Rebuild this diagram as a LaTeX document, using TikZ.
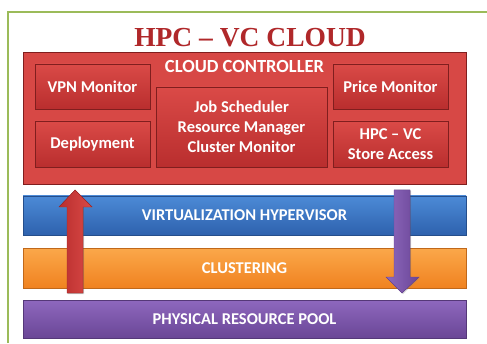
\documentclass[tikz,border=0pt]{standalone}
\usepackage{fontspec}
\setmainfont{Carlito}
\newfontfamily\titlefont[Ligatures=TeX]{Liberation Serif}
\usetikzlibrary{shadows,calc}
\definecolor{frameg}{HTML}{9BBB59}
\definecolor{redA}{HTML}{DA4A47}
\definecolor{redB}{HTML}{B92E2E}
\definecolor{redE}{HTML}{A02626}
\definecolor{bluA}{HTML}{4C8AD6}
\definecolor{bluB}{HTML}{2E62AE}
\definecolor{oraA}{HTML}{FBA84A}
\definecolor{oraB}{HTML}{F08220}
\definecolor{purA}{HTML}{8E68BE}
\definecolor{purB}{HTML}{6A4696}
\definecolor{titlec}{HTML}{B0282A}
\tikzset{
  lay/.style={draw=#1!80!black, line width=0.4pt, inner sep=0pt,
    drop shadow={opacity=0.35, shadow xshift=1.2pt, shadow yshift=-1.2pt},
    text=white, font=\bfseries\fontsize{16.5}{20}\selectfont, align=center},
  redbox/.style={lay=redE, top color=redA, bottom color=redB},
  bigred/.style={lay=redE, fill=redA!92!redB},
  bluebar/.style={lay=bluB, top color=bluA, bottom color=bluB},
  orangebar/.style={lay=oraB, top color=oraA, bottom color=oraB},
  purplebar/.style={lay=purB, top color=purA, bottom color=purB},
  lbl/.style={text=white, font=\bfseries\fontsize{18.5}{21}\selectfont, align=center, inner sep=0pt},
}
\begin{document}
\begin{tikzpicture}[x=1pt,y=1pt]
\useasboundingbox (0,0) rectangle (487,343);
\fill[white] (0,0) rectangle (487,343);
% frame
\draw[frameg, line width=1.5pt] (8,0) -- (8,331) -- (487,331);
% title
\node[font=\titlefont\bfseries\fontsize{27.5}{30}\selectfont, text=titlec, inner sep=0pt] (title) at (250,305) {HPC – VC CLOUD};
% cloud controller
\node[bigred, minimum width=443pt, minimum height=132pt] (cc) at (244.5,225) {};
\node[lbl] (cct) at (244.5,276) {CLOUD CONTROLLER};
\node[redbox, minimum width=115pt, minimum height=45pt] (vpn) at (92.5,256.5) {VPN Monitor};
\node[redbox, minimum width=115pt, minimum height=45pt] (price) at (390.5,256.5) {Price Monitor};
\node[redbox, minimum width=171pt, minimum height=80pt] (mid) at (241.5,216) {Job Scheduler\\Resource Manager\\Cluster Monitor};
\node[redbox, minimum width=115pt, minimum height=46pt] (dep) at (92.5,199) {Deployment};
\node[redbox, minimum width=115pt, minimum height=46pt] (store) at (390.5,199) {HPC – VC\\Store Access};
% layers
\node[bluebar, minimum width=443pt, minimum height=39pt] (virt) at (244.5,127.5) {VIRTUALIZATION HYPERVISOR};
\node[orangebar, minimum width=443pt, minimum height=40pt] (clus) at (244.5,75) {CLUSTERING};
\node[purplebar, minimum width=443pt, minimum height=38pt] (phys) at (244.5,24) {PHYSICAL RESOURCE POOL};
% arrows
\coordinate (rt) at (75,50);
\coordinate (rh) at (75,153);
\fill[left color=redB, right color=redA, draw=redE, line width=0.4pt,
  drop shadow={opacity=0.3, shadow xshift=1pt, shadow yshift=-1pt}]
  ($(rt)+(-8,0)$) -- ($(rt)+(8,0)$) -- ($(rh)+(8,-17)$) -- ($(rh)+(17,-17)$) -- (rh)
  -- ($(rh)+(-16,-17)$) -- ($(rh)+(-8,-17)$) -- cycle;
\coordinate (pt) at (402,153);
\coordinate (ph) at (402,50);
\fill[left color=purA, right color=purB, draw=purB, line width=0.4pt,
  drop shadow={opacity=0.3, shadow xshift=1pt, shadow yshift=-1pt}]
  ($(pt)+(-8,0)$) -- ($(pt)+(8,0)$) -- ($(ph)+(8,16)$) -- ($(ph)+(17,16)$) -- (ph)
  -- ($(ph)+(-16,16)$) -- ($(ph)+(-8,16)$) -- cycle;
\end{tikzpicture}
\end{document}
